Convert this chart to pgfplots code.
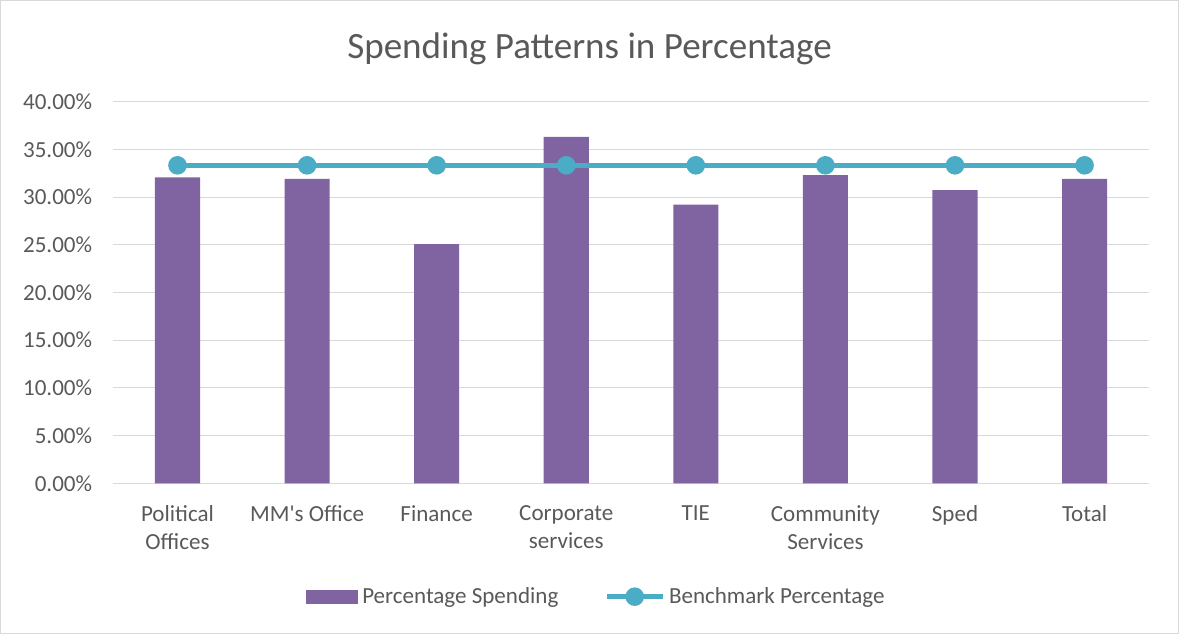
\documentclass[border=0pt]{standalone}
\usepackage{pgfplots}
\pgfplotsset{compat=1.18}
\usepackage{fontspec}
\setmainfont{Carlito}
\definecolor{barc}{HTML}{8064A2}
\definecolor{linec}{HTML}{4BACC6}
\definecolor{txt}{HTML}{595959}
\definecolor{gridc}{HTML}{D9D9D9}
\begin{document}
\begin{tikzpicture}
\draw[gridc, line width=1pt] (-112pt,-150pt) rectangle (1064pt,482pt);
\begin{axis}[
  at={(0,0)}, anchor=south west,
  scale only axis, width=1035pt, height=381pt,
  xmin=-0.5, xmax=7.5, ymin=0, ymax=40,
  xtick={0,...,7},
  xticklabels={{Political\\Offices},{MM\textquotesingle s Office},{Finance},{Corporate\\services},{TIE},{Community\\Services},{Sped},{Total}},
  ytick={0,5,...,40},
  yticklabel={\pgfmathprintnumber[fixed,fixed zerofill,precision=2]{\tick}\%},
  /pgf/number format/assume math mode=true,
  ymajorgrids, grid style={gridc, line width=1pt},
  axis x line*=bottom, axis y line*=left,
  y axis line style={draw=none},
  x axis line style={draw=gridc, line width=1pt},
  major tick length=0pt,
  tick style={draw=none},
  ticklabel style={text=txt, font=\fontsize{23}{28}\selectfont},
  xticklabel style={align=center, yshift=-19pt},
  yticklabel style={xshift=-17pt},
  legend style={at={(0.4665,-0.297)}, anchor=center, draw=none, fill=none,
    legend columns=2, font=\fontsize{23}{28}\selectfont, text=txt,
    /tikz/every odd column/.append style={column sep=2pt},
    /tikz/every even column/.append style={column sep=44pt}},
]
\addplot[ybar, bar width=45pt, fill=barc, draw=none,
  legend image code/.code={\fill[barc] (0pt,-7pt) rectangle (52pt,7pt);}]
  coordinates {(0,32.07) (1,31.9) (2,25.07) (3,36.31) (4,29.2) (5,32.3) (6,30.74) (7,31.9)};
\addlegendentry{Percentage Spending}
\addplot[linec, line width=4.5pt, mark=*, mark size=7pt,
  legend image code/.code={\draw[linec,line width=4.5pt] (0pt,0pt) -- (56pt,0pt); \fill[linec] (28pt,0pt) circle (7pt);}]
  coordinates {(0,33.33) (1,33.33) (2,33.33) (3,33.33) (4,33.33) (5,33.33) (6,33.33) (7,33.33)};
\addlegendentry{Benchmark Percentage}
\end{axis}
\node[txt, font=\fontsize{37}{44}\selectfont] at (476pt,434pt) {Spending Patterns in Percentage};
\end{tikzpicture}
\end{document}
